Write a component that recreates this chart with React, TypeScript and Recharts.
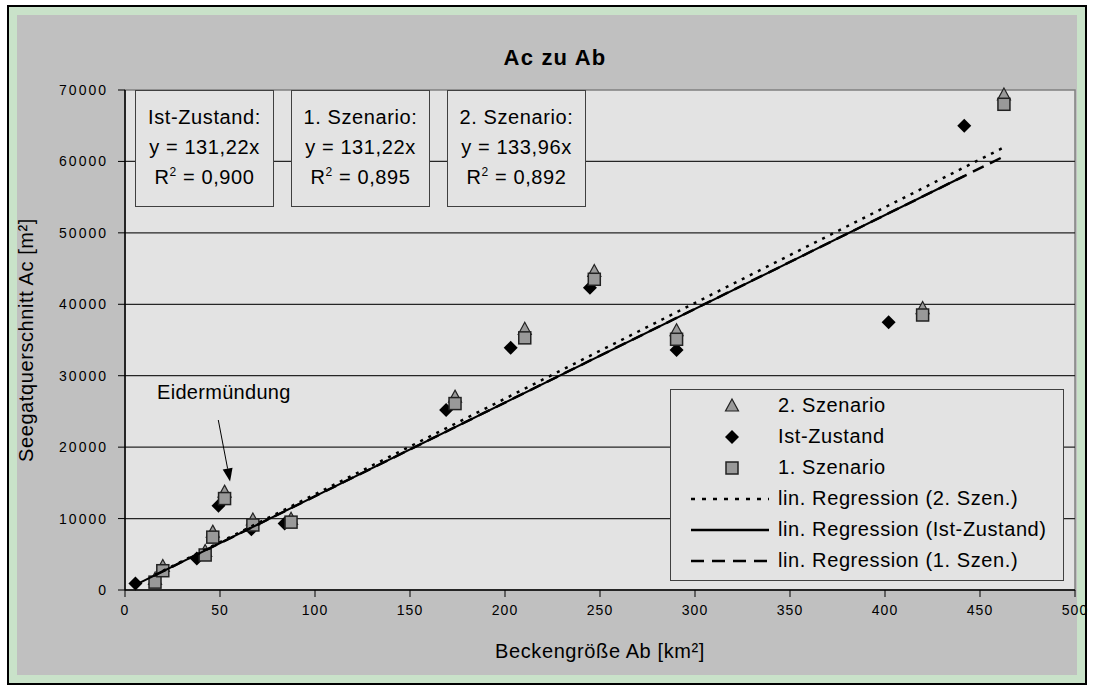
import React from "react";
import {
  ScatterChart,
  Scatter,
  XAxis,
  YAxis,
  CartesianGrid,
  ReferenceArea,
  ReferenceLine,
} from "recharts";

const FONT = '"Liberation Sans", Arial, sans-serif';

// Beckengröße Ab [km²] / Seegatquerschnitt Ac [m²]
const abIst = [5.5, 37.8, 49.2, 66.5, 84, 169, 203, 244.7, 290.3, 401.9, 441.7];
const acIst = [900, 4400, 11800, 8500, 9300, 25200, 33900, 42300, 33600, 37500, 65000];

const abSzen1 = [15.8, 19.9, 42.2, 46.2, 52.4, 67.3, 87.4, 173.7, 210.4, 247, 290.3, 419.8, 462.6];
const acSzen1 = [1100, 2700, 4900, 7400, 12800, 9100, 9500, 26100, 35300, 43500, 35100, 38500, 68000];

const abSzen2 = [15.8, 19.9, 42.2, 46.2, 52.4, 67.3, 87.4, 173.7, 210.4, 247, 290.3, 419.8, 462.6];
const acSzen2 = [1500, 3300, 5400, 8100, 13700, 9800, 9900, 27000, 36500, 44600, 36300, 39400, 69300];

const slopeIst = 131.22;
const slopeSzen1 = 131.22;
const slopeSzen2 = 133.96;

const boxes = [
  { title: "Ist-Zustand:", eq: "y = 131,22x", r2: "0,900" },
  { title: "1. Szenario:", eq: "y = 131,22x", r2: "0,895" },
  { title: "2. Szenario:", eq: "y = 133,96x", r2: "0,892" },
];

const xTicks = [0, 50, 100, 150, 200, 250, 300, 350, 400, 450, 500];
const yTicks = [0, 10000, 20000, 30000, 40000, 50000, 60000, 70000];

const toPoints = (xs: number[], ys: number[]) => xs.map((x, i) => ({ x, y: ys[i] }));

const regression = (xs: number[], slope: number) => {
  const lo = Math.min(...xs);
  const hi = Math.max(...xs);
  return [
    { x: lo, y: lo * slope },
    { x: hi, y: hi * slope },
  ];
};

const Diamond = ({ cx, cy }: any) => (
  <path d={`M${cx},${cy - 7} L${cx + 7},${cy} L${cx},${cy + 7} L${cx - 7},${cy} Z`} fill="#000" />
);

const Square = ({ cx, cy }: any) => (
  <rect x={cx - 6} y={cy - 6} width={12} height={12} fill="#999" stroke="#222" strokeWidth={1.5} />
);

const Triangle = ({ cx, cy }: any) => (
  <path d={`M${cx},${cy - 7} L${cx + 6.5},${cy + 5} L${cx - 6.5},${cy + 5} Z`} fill="#999" stroke="#222" strokeWidth={1.2} />
);

const Nothing = () => <g />;

const Arrow = ({ x1, y1, x2, y2 }: any) => {
  const ang = Math.atan2(y2 - y1, x2 - x1);
  const len = 13;
  const w = 5;
  const bx = x2 - len * Math.cos(ang);
  const by = y2 - len * Math.sin(ang);
  const px = -Math.sin(ang) * w;
  const py = Math.cos(ang) * w;
  return (
    <g>
      <line x1={x1} y1={y1} x2={bx} y2={by} stroke="#000" strokeWidth={1} />
      <path d={`M${x2},${y2} L${bx + px},${by + py} L${bx - px},${by - py} Z`} fill="#000" />
    </g>
  );
};

const legendRows = [
  { label: "2. Szenario", kind: "tri" },
  { label: "Ist-Zustand", kind: "dia" },
  { label: "1. Szenario", kind: "sq" },
  { label: "lin. Regression (2. Szen.)", kind: "dot" },
  { label: "lin. Regression (Ist-Zustand)", kind: "solid" },
  { label: "lin. Regression (1. Szen.)", kind: "dash" },
];

const LegendIcon = ({ kind }: { kind: string }) => (
  <svg width={100} height={31} style={{ display: "block" }}>
    {kind === "tri" && <Triangle cx={61} cy={16} />}
    {kind === "dia" && <Diamond cx={61} cy={16} />}
    {kind === "sq" && <Square cx={61} cy={16} />}
    {kind === "dot" && <line x1={20} y1={16} x2={98} y2={16} stroke="#000" strokeWidth={2.5} strokeDasharray="4 7" />}
    {kind === "solid" && <line x1={20} y1={16} x2={98} y2={16} stroke="#000" strokeWidth={2.5} />}
    {kind === "dash" && <line x1={20} y1={16} x2={98} y2={16} stroke="#000" strokeWidth={2.5} strokeDasharray="13 8" />}
  </svg>
);

export default function App() {
  return (
    <div style={{ position: "absolute", left: 0, top: 0, width: 1093, height: 690, background: "#fff", fontFamily: FONT, overflow: "hidden" }}>
      <div style={{ position: "absolute", left: 7, top: 5, width: 1080, height: 680, boxSizing: "border-box", border: "2px solid #000", background: "#c9e2c9", padding: 8 }}>
        <div style={{ width: "100%", height: "100%", background: "#c0c0c0" }} />
      </div>

      <div style={{ position: "absolute", left: 0, top: 0 }}>
        <ScatterChart width={1093} height={690} margin={{ top: 90, right: 18, bottom: 20, left: 0 }}>
          <CartesianGrid horizontal={false} vertical={false} fill="#e3e3e3" />
          <ReferenceArea x1={0} x2={500} y1={0} y2={70000} fill="none" stroke="#808080" strokeWidth={1.5} ifOverflow="extendDomain" />
          {yTicks.slice(1, -1).map((v) => (
            <ReferenceLine key={v} y={v} stroke="#262626" strokeWidth={1.2} />
          ))}
          <XAxis
            type="number"
            dataKey="x"
            domain={[0, 500]}
            ticks={xTicks}
            height={80}
            axisLine={{ stroke: "#000", strokeWidth: 1.5 }}
            tickLine={{ stroke: "#000" }}
            tickSize={7}
            tickMargin={8}
            tick={{ fill: "#000", fontSize: 14, fontFamily: FONT, letterSpacing: 1 }}
            label={{ value: "Beckengröße Ab [km²]", position: "insideBottom", offset: 12, fill: "#000", fontSize: 20, fontFamily: FONT, letterSpacing: 0.6 }}
          />
          <YAxis
            type="number"
            dataKey="y"
            domain={[0, 70000]}
            ticks={yTicks}
            width={125}
            axisLine={{ stroke: "#000", strokeWidth: 1.5 }}
            tickLine={{ stroke: "#000" }}
            tickSize={7}
            tickMargin={10}
            tick={{ fill: "#000", fontSize: 14, fontFamily: FONT, letterSpacing: 2 }}
            label={{ value: "Seegatquerschnitt Ac [m²]", angle: -90, position: "insideLeft", offset: 26, fill: "#000", fontSize: 20, fontFamily: FONT, letterSpacing: 0.6, style: { textAnchor: "middle" } }}
          />
          <ReferenceLine
            segment={[
              { x: 49.1, y: 23800 },
              { x: 55.3, y: 15200 },
            ]}
            shape={Arrow}
          />
          <Scatter name="2. Szenario" data={toPoints(abSzen2, acSzen2)} shape={Triangle} isAnimationActive={false} />
          <Scatter name="Ist-Zustand" data={toPoints(abIst, acIst)} shape={Diamond} isAnimationActive={false} />
          <Scatter name="1. Szenario" data={toPoints(abSzen1, acSzen1)} shape={Square} isAnimationActive={false} />
          <Scatter
            name="lin. Regression (2. Szen.)"
            data={regression(abSzen2, slopeSzen2)}
            fill="#000"
            line={{ stroke: "#000", strokeWidth: 2.5, strokeDasharray: "3 6" }}
            shape={Nothing}
            isAnimationActive={false}
          />
          <Scatter
            name="lin. Regression (Ist-Zustand)"
            data={regression(abIst, slopeIst)}
            fill="#000"
            line={{ stroke: "#000", strokeWidth: 2 }}
            shape={Nothing}
            isAnimationActive={false}
          />
          <Scatter
            name="lin. Regression (1. Szen.)"
            data={regression(abSzen1, slopeSzen1)}
            fill="#000"
            line={{ stroke: "#000", strokeWidth: 2.5, strokeDasharray: "12 7" }}
            shape={Nothing}
            isAnimationActive={false}
          />
        </ScatterChart>
      </div>

      <div style={{ position: "absolute", left: 455, top: 45, width: 200, textAlign: "center", fontSize: 22, fontWeight: "bold", letterSpacing: 1.2 }}>
        Ac zu Ab
      </div>

      {boxes.map((b, i) => (
        <div
          key={i}
          style={{
            position: "absolute",
            left: 135 + i * 156,
            top: 90,
            width: 139,
            height: 117,
            boxSizing: "border-box",
            border: "1px solid #404040",
            background: "#e3e3e3",
            textAlign: "center",
            fontSize: 20,
            letterSpacing: 0.6,
            lineHeight: "30px",
            paddingTop: 11,
          }}
        >
          <div>{b.title}</div>
          <div>{b.eq}</div>
          <div>
            R<sup style={{ fontSize: 12, verticalAlign: "8px", lineHeight: 0 }}>2</sup> = {b.r2}
          </div>
        </div>
      ))}

      <div style={{ position: "absolute", left: 157, top: 381, fontSize: 20, letterSpacing: 0.3 }}>Eidermündung</div>

      <div
        style={{
          position: "absolute",
          left: 670,
          top: 389,
          width: 394,
          height: 192,
          boxSizing: "border-box",
          border: "1px solid #404040",
          background: "#e3e3e3",
        }}
      >
        {legendRows.map((r) => (
          <div key={r.label} style={{ display: "flex", alignItems: "center", height: 31 }}>
            <LegendIcon kind={r.kind} />
            <span style={{ fontSize: 20, marginLeft: 7, whiteSpace: "nowrap", letterSpacing: 0.6 }}>{r.label}</span>
          </div>
        ))}
      </div>
    </div>
  );
}
